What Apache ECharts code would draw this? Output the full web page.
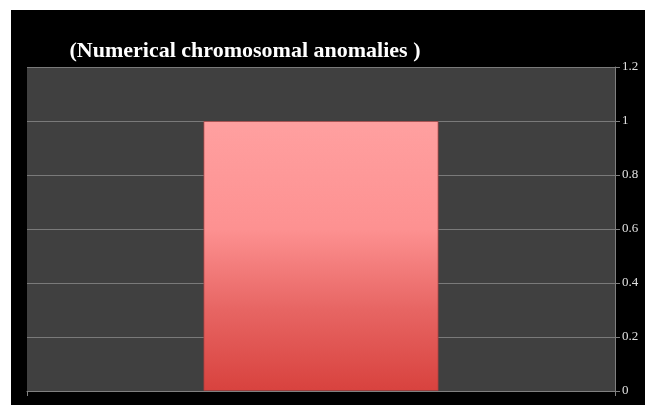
<!DOCTYPE html>
<html>
<head>
<meta charset="utf-8">
<script src="https://cdn.jsdelivr.net/npm/echarts@6/dist/echarts.min.js"></script>
<style>
  html, body { margin: 0; padding: 0; background: #fff; }
  #main { position: absolute; left: 11px; top: 10px; width: 634px; height: 395px; background: #000; }
</style>
</head>
<body>
<div id="main"></div>
<script>
// data
var categories = ['Numerical chromosomal anomalies'];
var values = [1];
var yTicks = [0, 0.2, 0.4, 0.6, 0.8, 1, 1.2];

var myChart = echarts.init(document.getElementById('main'));

var option = {
  backgroundColor: '#000',
  animation: false,
  title: {
    text: '(Numerical chromosomal anomalies )',
    left: 229,
    textAlign: 'center',
    top: 25,
    textStyle: {
      color: '#fff',
      fontFamily: 'Liberation Serif',
      fontWeight: 'bold',
      fontSize: 22
    }
  },
  grid: { left: 16, right: 30, top: 57, bottom: 14, show: true, backgroundColor: '#404040', borderWidth: 0 },
  xAxis: {
    type: 'category',
    data: categories,
    axisLine: { show: true, lineStyle: { color: '#808080' } },
    axisTick: { show: true, interval: 0, length: 5, lineStyle: { color: '#808080' } },
    axisLabel: { show: false }
  },
  yAxis: {
    type: 'value',
    position: 'right',
    min: 0,
    max: yTicks[yTicks.length - 1],
    interval: 0.2,
    axisLine: { show: true, lineStyle: { color: '#808080' } },
    axisTick: { show: true, length: 5, lineStyle: { color: '#808080' } },
    splitLine: { show: true, lineStyle: { color: '#7a7a7a', width: 1 } },
    axisLabel: {
      color: '#e0e0e0',
      fontFamily: 'Liberation Serif',
      fontSize: 13,
      margin: 7,
      formatter: function (v) { return String(Math.round(v * 10) / 10); }
    }
  },
  series: [{
    type: 'bar',
    data: values,
    barWidth: '40%',
    itemStyle: {
      color: new echarts.graphic.LinearGradient(0, 0, 0, 1, [
        { offset: 0, color: '#ffa0a0' },
        { offset: 0.4, color: '#fd9191' },
        { offset: 0.7, color: '#e76563' },
        { offset: 1, color: '#d8423e' }
      ]),
      borderColor: 'rgba(160,60,60,0.7)',
      borderWidth: 1
    }
  }]
};

myChart.setOption(option);
</script>
</body>
</html>
